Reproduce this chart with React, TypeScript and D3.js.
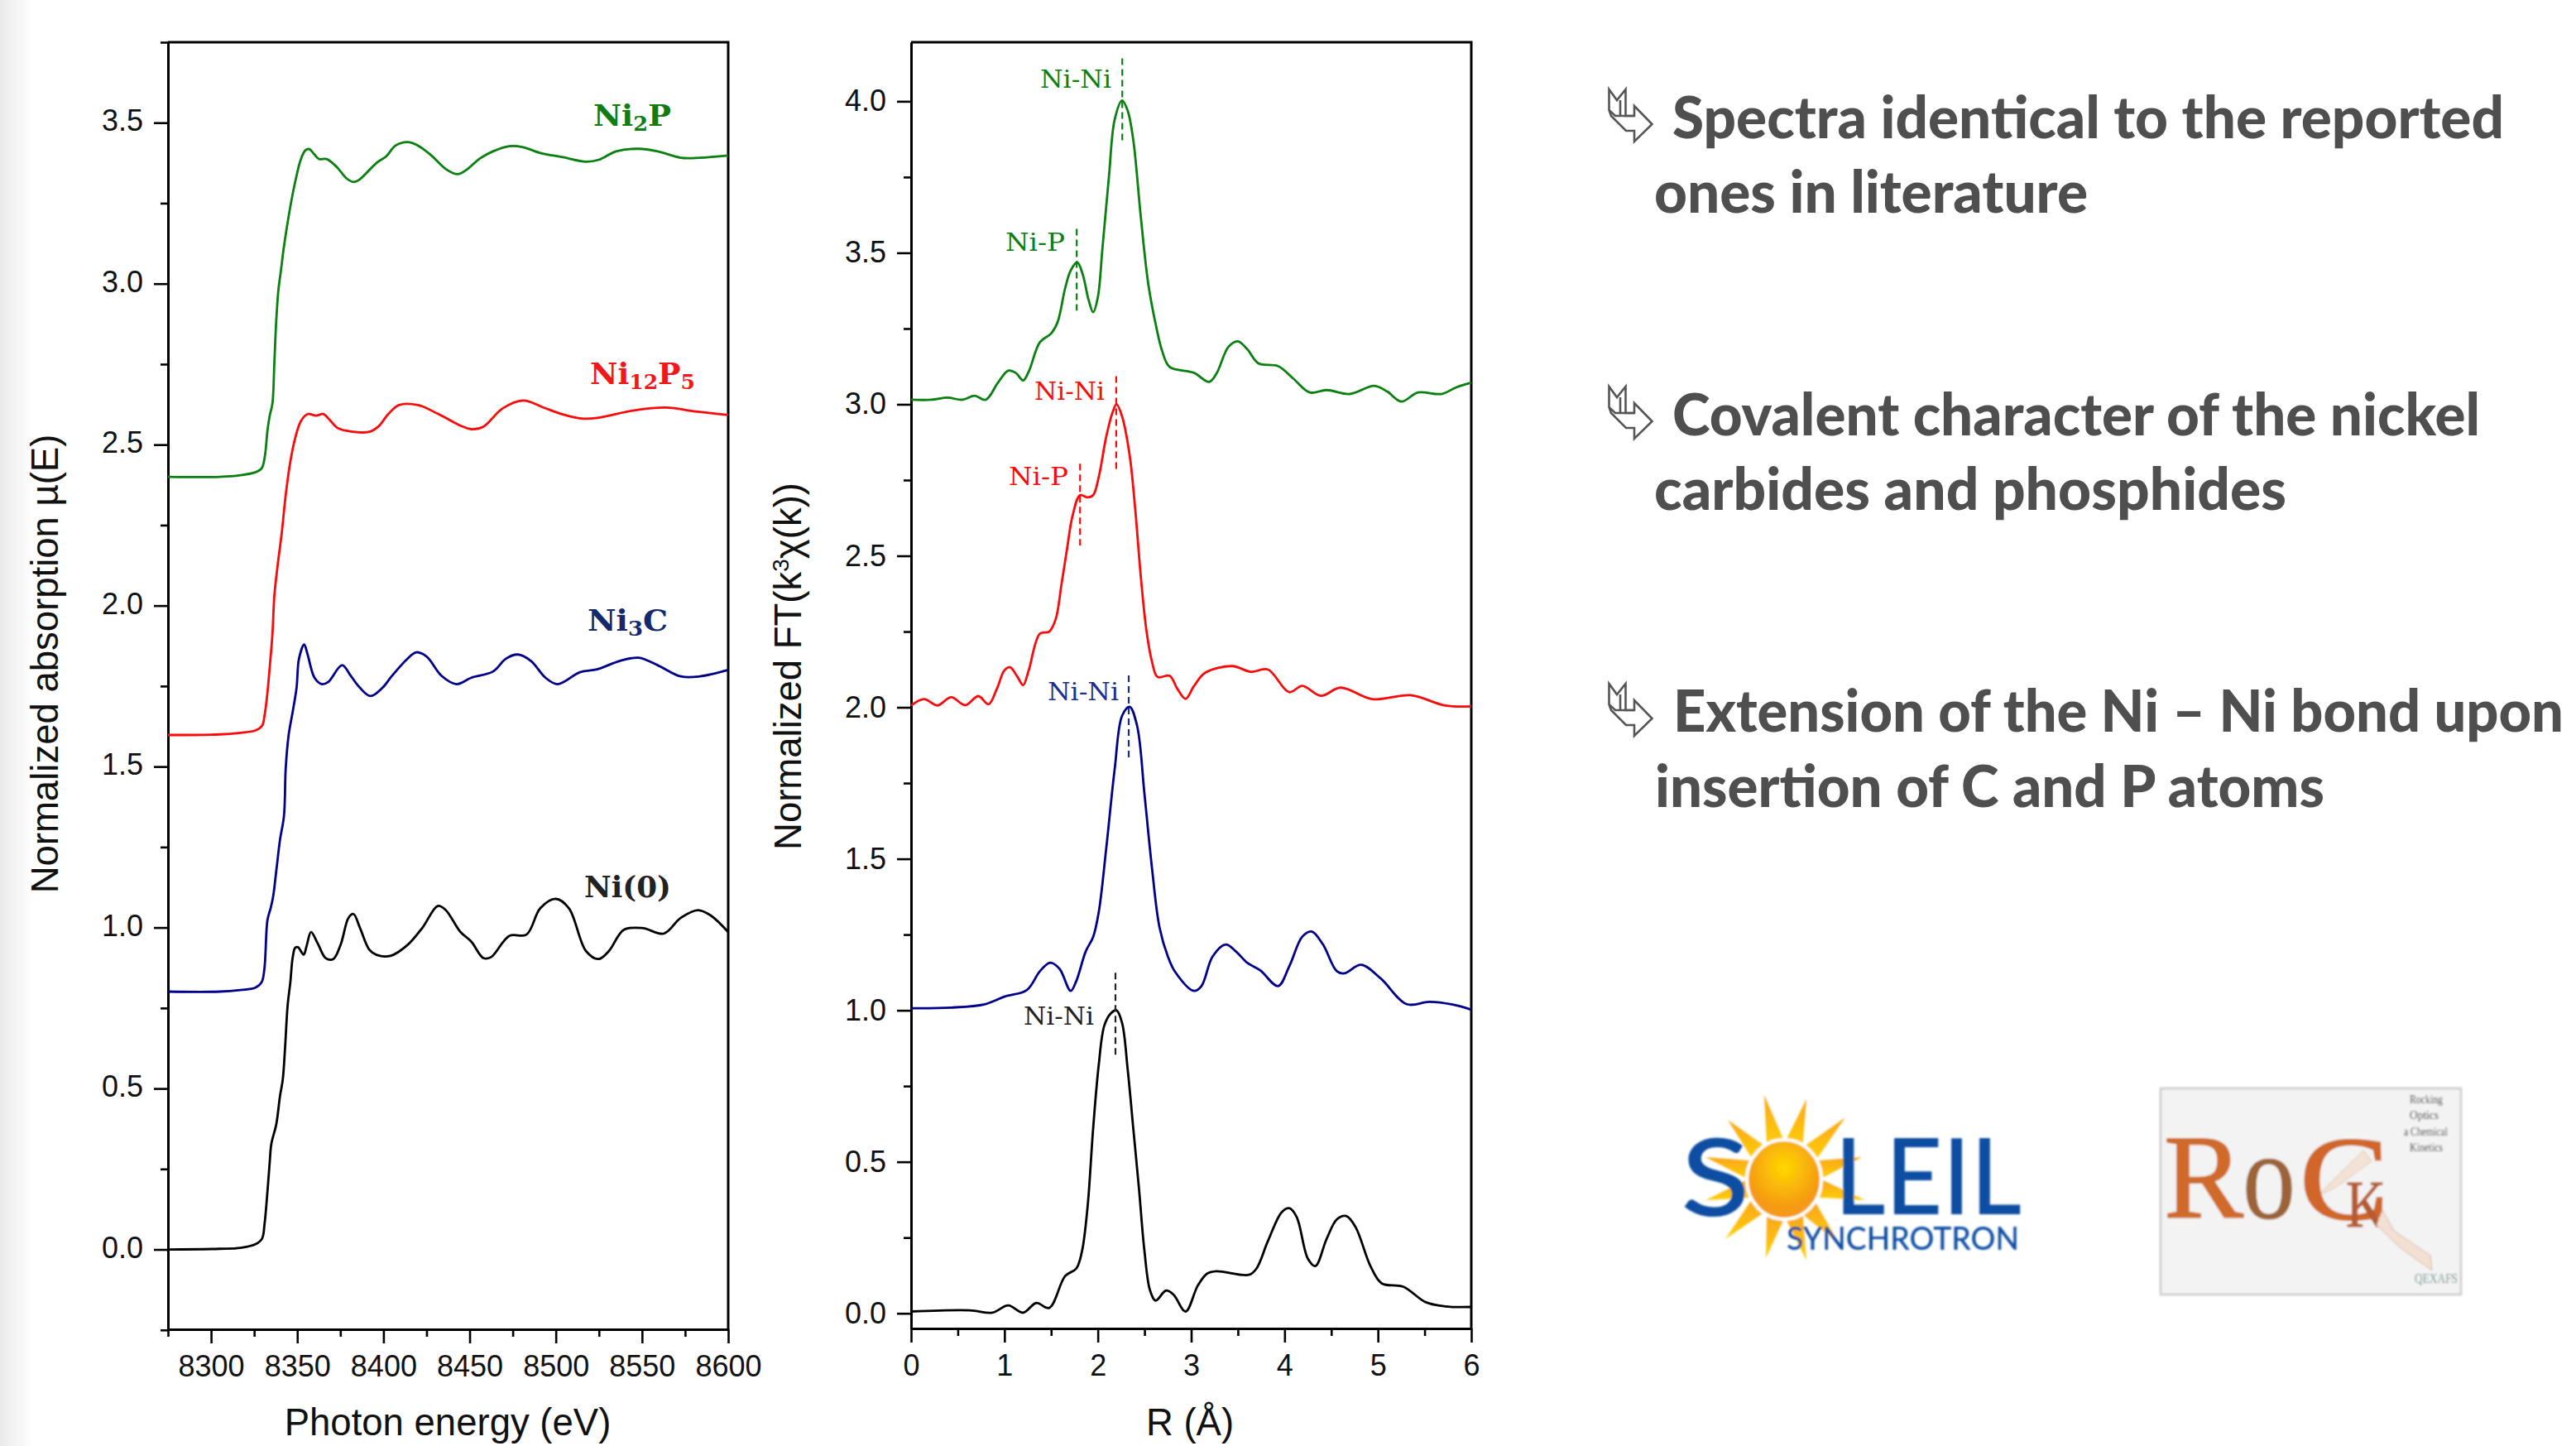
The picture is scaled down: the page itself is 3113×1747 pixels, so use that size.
import React, { useEffect, useRef } from "react";
import * as d3 from "d3";

// XANES spectra, [photon energy, normalized absorption]
const xanesNi2P = [[8275,2.4],[8305,2.4],[8317,2.405],[8325.6,2.414],[8329.4,2.427],[8331.2,2.464],[8332.7,2.543],[8334,2.589],[8335.6,2.628],[8336.7,2.753],[8337.8,2.884],[8339,2.977],[8340.5,3.04],[8342.4,3.12],[8345.5,3.225],[8348.8,3.316],[8352,3.385],[8354.7,3.414],[8357,3.418],[8359.8,3.402],[8362.7,3.387],[8367,3.387],[8373,3.362],[8378.6,3.327],[8382.6,3.316],[8386,3.323],[8396,3.375],[8401.7,3.396],[8407,3.429],[8413.9,3.44],[8419,3.432],[8427,3.402],[8437,3.353],[8443,3.34],[8448,3.353],[8456,3.389],[8463.5,3.411],[8473,3.427],[8481,3.424],[8491,3.406],[8504,3.393],[8517.5,3.379],[8525,3.385],[8535,3.411],[8548,3.419],[8559,3.411],[8572.5,3.391],[8583.5,3.391],[8600,3.398]];
const xanesNi12P5 = [[8275,1.598],[8305,1.6],[8317,1.605],[8325.7,1.612],[8329.6,1.627],[8331,1.658],[8332.7,1.73],[8334,1.807],[8335.6,1.912],[8336.7,2.03],[8338.5,2.12],[8341,2.226],[8343.3,2.344],[8346,2.448],[8348.8,2.52],[8352,2.572],[8356,2.595],[8361,2.59],[8365,2.595],[8368.8,2.577],[8373,2.553],[8378.6,2.543],[8391.8,2.54],[8397,2.556],[8403,2.596],[8409,2.623],[8420,2.623],[8431.5,2.596],[8444.7,2.559],[8451,2.548],[8458,2.556],[8469,2.612],[8481,2.637],[8493,2.615],[8504,2.594],[8515,2.581],[8524,2.583],[8546,2.607],[8564,2.615],[8581,2.603],[8600,2.592]];
const xanesNi3C = [[8275,0.801],[8305,0.801],[8317,0.806],[8325.7,0.813],[8329.4,0.831],[8331,0.875],[8332.7,1.023],[8334.5,1.059],[8336,1.096],[8338,1.184],[8340,1.273],[8342.3,1.347],[8343.3,1.495],[8345,1.598],[8347.4,1.672],[8349.6,1.745],[8351,1.835],[8354,1.879],[8356,1.848],[8360,1.776],[8364.3,1.756],[8368,1.763],[8376,1.815],[8381,1.782],[8386.3,1.745],[8392.5,1.719],[8399.5,1.745],[8405,1.782],[8414,1.835],[8419,1.855],[8425,1.842],[8433.7,1.782],[8442.5,1.756],[8451,1.776],[8463.5,1.795],[8471,1.835],[8478,1.848],[8485.6,1.828],[8494,1.776],[8501,1.756],[8514,1.793],[8524,1.802],[8537,1.828],[8548,1.838],[8559,1.815],[8572.5,1.78],[8583.5,1.78],[8600,1.8]];
const xanesNi0 = [[8275,0],[8305,0.002],[8317,0.005],[8325.7,0.016],[8329.6,0.034],[8331,0.078],[8332.7,0.18],[8334,0.27],[8335,0.329],[8337.8,0.388],[8340,0.477],[8341.6,0.528],[8342.9,0.624],[8344.4,0.757],[8346,0.831],[8347.3,0.905],[8348.8,0.937],[8350.4,0.939],[8353.7,0.916],[8355.4,0.942],[8358,0.986],[8362,0.949],[8366.5,0.905],[8370.9,0.902],[8375.3,0.949],[8379.7,1.03],[8382.6,1.042],[8386.3,1.0],[8391.8,0.931],[8396,0.915],[8404,0.912],[8414,0.946],[8422.7,1.0],[8431.5,1.067],[8436,1.055],[8444.7,0.986],[8451,0.956],[8458,0.905],[8462.4,0.908],[8473,0.974],[8483,0.978],[8491,1.06],[8500,1.089],[8507.6,1.06],[8517.5,0.927],[8524.8,0.902],[8530.8,0.927],[8539.5,0.993],[8550.6,0.998],[8562.6,0.981],[8572.5,1.03],[8582.5,1.054],[8590,1.037],[8600,0.986]];

// FT spectra, [R, normalized FT]
const ftNi2P = [[0,3.015],[0.22,3.015],[0.39,3.022],[0.55,3.015],[0.68,3.028],[0.8,3.015],[0.93,3.071],[1.04,3.111],[1.12,3.104],[1.2,3.079],[1.26,3.108],[1.38,3.205],[1.5,3.234],[1.57,3.272],[1.65,3.383],[1.71,3.442],[1.78,3.469],[1.84,3.427],[1.9,3.346],[1.95,3.304],[2.0,3.353],[2.05,3.516],[2.12,3.754],[2.18,3.939],[2.26,4.003],[2.32,3.969],[2.38,3.872],[2.46,3.62],[2.54,3.398],[2.62,3.264],[2.69,3.175],[2.77,3.123],[3.03,3.104],[3.19,3.074],[3.27,3.101],[3.4,3.19],[3.5,3.208],[3.6,3.182],[3.72,3.135],[3.93,3.126],[4.09,3.086],[4.27,3.039],[4.45,3.047],[4.7,3.034],[4.96,3.061],[5.1,3.042],[5.25,3.009],[5.43,3.039],[5.68,3.034],[5.84,3.056],[6,3.071]];
const ftNi12P5 = [[0,2.006],[0.14,2.027],[0.28,2.006],[0.43,2.033],[0.58,2.007],[0.72,2.037],[0.83,2.01],[0.92,2.062],[1.0,2.122],[1.06,2.132],[1.14,2.1],[1.2,2.073],[1.26,2.122],[1.38,2.243],[1.48,2.25],[1.55,2.292],[1.61,2.404],[1.67,2.522],[1.73,2.633],[1.81,2.7],[1.89,2.693],[1.95,2.7],[2.01,2.76],[2.09,2.893],[2.16,2.975],[2.2,3.0],[2.26,2.96],[2.34,2.834],[2.4,2.656],[2.46,2.433],[2.52,2.255],[2.58,2.151],[2.64,2.1],[2.77,2.104],[2.85,2.062],[2.94,2.028],[3.03,2.07],[3.15,2.114],[3.44,2.136],[3.64,2.117],[3.82,2.125],[4.05,2.05],[4.19,2.071],[4.39,2.038],[4.6,2.065],[4.94,2.027],[5.35,2.04],[5.72,2.006],[6,2.003]];
const ftNi3C = [[0,1.007],[0.43,1.009],[0.79,1.02],[1.0,1.045],[1.24,1.067],[1.38,1.129],[1.49,1.157],[1.59,1.137],[1.71,1.064],[1.77,1.097],[1.87,1.194],[1.95,1.242],[2.01,1.324],[2.09,1.534],[2.18,1.794],[2.26,1.972],[2.34,2.002],[2.42,1.94],[2.5,1.713],[2.58,1.47],[2.66,1.275],[2.75,1.178],[2.83,1.126],[3.03,1.064],[3.11,1.08],[3.23,1.178],[3.37,1.217],[3.48,1.194],[3.6,1.157],[3.74,1.132],[3.93,1.08],[4.05,1.145],[4.19,1.243],[4.29,1.26],[4.41,1.218],[4.56,1.129],[4.64,1.122],[4.82,1.15],[5.03,1.105],[5.31,1.02],[5.55,1.028],[5.8,1.019],[6,1.002]];
const ftNi0 = [[0,0.006],[0.63,0.01],[0.87,0.002],[1.04,0.026],[1.2,0.002],[1.34,0.034],[1.48,0.018],[1.65,0.123],[1.77,0.148],[1.83,0.204],[1.89,0.35],[1.95,0.61],[2.01,0.82],[2.07,0.95],[2.14,0.99],[2.2,1.0],[2.26,0.958],[2.32,0.805],[2.38,0.61],[2.44,0.415],[2.5,0.204],[2.56,0.075],[2.62,0.042],[2.73,0.075],[2.81,0.062],[2.94,0.006],[3.07,0.091],[3.17,0.131],[3.27,0.139],[3.62,0.127],[3.7,0.148],[3.82,0.237],[3.97,0.334],[4.05,0.347],[4.13,0.318],[4.25,0.18],[4.33,0.156],[4.45,0.245],[4.56,0.31],[4.66,0.321],[4.76,0.285],[4.92,0.156],[5.04,0.099],[5.27,0.088],[5.51,0.037],[5.72,0.023],[6,0.021]];

const GREEN = "#0a8010";
const RED = "#fa0a0a";
const NAVY = "#00008b";
const BLACK = "#000";

const xanesSeries = [
  { pts: xanesNi2P, color: GREEN },
  { pts: xanesNi12P5, color: RED },
  { pts: xanesNi3C, color: NAVY },
  { pts: xanesNi0, color: BLACK },
];
const ftSeries = [
  { pts: ftNi2P, color: GREEN },
  { pts: ftNi12P5, color: RED },
  { pts: ftNi3C, color: NAVY },
  { pts: ftNi0, color: BLACK },
];

// dashed peak markers: label, R, top and bottom value, label end x in px offset
const peakMarks = [
  { label: "Ni-Ni", r: 2.262, y0: 4.142, y1: 3.869, color: GREEN, tx: 1257, tw: 86, base: 106 },
  { label: "Ni-P", r: 1.774, y0: 3.579, y1: 3.309, color: GREEN, tx: 1215, tw: 72, base: 303 },
  { label: "Ni-Ni", r: 2.197, y0: 3.093, y1: 2.782, color: RED, tx: 1250, tw: 85, base: 483 },
  { label: "Ni-P", r: 1.81, y0: 2.804, y1: 2.534, color: RED, tx: 1219, tw: 72, base: 586 },
  { label: "Ni-Ni", r: 2.331, y0: 2.105, y1: 1.835, color: "#1a2d90", tx: 1266, tw: 86, base: 846 },
  { label: "Ni-Ni", r: 2.189, y0: 1.124, y1: 0.848, color: "#222", tx: 1237, tw: 85, base: 1238 },
];

const sampleLabels = [
  { parts: [["Ni", 0], ["2", 1], ["P", 0]], x: 717, y: 152, w: 94, color: "#0f7d14" },
  { parts: [["Ni", 0], ["12", 1], ["P", 0], ["5", 1]], x: 713, y: 464, w: 127, color: "#f01818" },
  { parts: [["Ni", 0], ["3", 1], ["C", 0]], x: 710, y: 762, w: 97, color: "#14286e" },
  { parts: [["Ni(0)", 0]], x: 706, y: 1084, w: 105, color: "#222" },
];

const bulletLines = [
  { text: "Spectra identical to the reported", x: 2021, y: 167, w: 1005 },
  { text: "ones in literature", x: 1999, y: 257, w: 524 },
  { text: "Covalent character of the nickel", x: 2021, y: 526, w: 976 },
  { text: "carbides and phosphides", x: 1999, y: 616, w: 764 },
  { text: "Extension of the Ni – Ni bond upon", x: 2022, y: 884, w: 1076 },
  { text: "insertion of C and P atoms", x: 2000, y: 975, w: 809 },
];
const bulletOffsets = [0, 359, 718];

const sunTips = [[2132,1323],[2183,1328],[2230,1350],[2250,1398],[2254,1450],[2223,1503],[2183,1523],[2134,1520],[2085,1497],[2061,1450],[2061,1398],[2088,1353]];

const SANS = "'Liberation Sans', Arial, sans-serif";

function drawPanel(svg, cfg) {
  const { left, right, top, bottom, xDomain, yDomain, xMajor, xMinor, yMajor, yMinor, xFmt, series, labelLift } = cfg;
  const x = d3.scaleLinear().domain(xDomain).range([left, right]);
  const y = d3.scaleLinear().domain(yDomain).range([bottom, top]);

  const styleAxis = (sel) => {
    sel.selectAll("line").attr("stroke", "#000").attr("stroke-width", 2.6);
    sel.select(".domain").attr("stroke", "#000").attr("stroke-width", 3);
    sel.selectAll("text").attr("font-family", SANS).attr("font-size", 36).attr("fill", "#111");
  };

  //Minor ticks
  svg.append("g").attr("transform", `translate(0,${bottom})`)
    .call(d3.axisBottom(x).tickValues(xMinor).tickSize(9).tickSizeOuter(0)).call(styleAxis)
    .selectAll("text").remove();
  svg.append("g").attr("transform", `translate(${left},0)`)
    .call(d3.axisLeft(y).tickValues(yMinor).tickSize(9).tickSizeOuter(0)).call(styleAxis)
    .selectAll("text").remove();

  //Major ticks
  const xAxis = svg.append("g").attr("transform", `translate(0,${bottom})`)
    .call(d3.axisBottom(x).tickValues(xMajor).tickSize(17).tickPadding(12).tickFormat(xFmt).tickSizeOuter(0)).call(styleAxis);
  xAxis.selectAll("text").attr("dy", null).attr("y", 57);
  const yAxis = svg.append("g").attr("transform", `translate(${left},0)`)
    .call(d3.axisLeft(y).tickValues(yMajor).tickSize(17).tickPadding(12).tickFormat(d3.format(".1f")).tickSizeOuter(0)).call(styleAxis);
  yAxis.selectAll("text").attr("x", -30).attr("y", -labelLift);

  //Top and right frame
  svg.append("path").attr("d", `M${left},${top}H${right}V${bottom}`)
    .attr("fill", "none").attr("stroke", "#000").attr("stroke-width", 3);

  //Curves
  const line = d3.line().x((d) => x(d[0])).y((d) => y(d[1])).curve(d3.curveCatmullRom.alpha(0.5));
  svg.selectAll(null).data(series).join("path")
    .attr("d", (d) => line(d.pts))
    .attr("fill", "none")
    .attr("stroke", (d) => d.color)
    .attr("stroke-width", 2.8)
    .attr("stroke-linejoin", "round");

  return { x, y };
}

export default function App() {
  const ref = useRef(null);

  useEffect(() => {
    const svg = d3.select(ref.current);
    svg.selectAll("*").remove();

    const defs = svg.append("defs");
    const edge = defs.append("linearGradient").attr("id", "edge");
    edge.append("stop").attr("offset", 0).attr("stop-color", "#eaeaea");
    edge.append("stop").attr("offset", 1).attr("stop-color", "#fff");
    const sun = defs.append("radialGradient").attr("id", "sunBall").attr("cy", 0.35);
    sun.append("stop").attr("offset", 0).attr("stop-color", "#ffd800");
    sun.append("stop").attr("offset", 1).attr("stop-color", "#f59a12");
    const rays = defs.append("linearGradient").attr("id", "sunRays").attr("x1", 0).attr("x2", 0).attr("y1", 1).attr("y2", 0);
    rays.append("stop").attr("offset", 0).attr("stop-color", "#ffce0a");
    rays.append("stop").attr("offset", 1).attr("stop-color", "#f9a51a");
    defs.append("filter").attr("id", "soft").append("feGaussianBlur").attr("stdDeviation", 0.8);

    svg.append("rect").attr("width", 3113).attr("height", 1747).attr("fill", "#fff");
    svg.append("rect").attr("width", 40).attr("height", 1747).attr("fill", "url(#edge)");

    drawPanel(svg, {
      left: 203, right: 880, top: 51, bottom: 1606,
      xDomain: [8275, 8600], yDomain: [-0.248, 3.75],
      xMajor: d3.range(8300, 8601, 50), xMinor: d3.range(8275, 8600, 50),
      yMajor: d3.range(0, 3.51, 0.5), yMinor: d3.range(-0.25, 3.76, 0.5),
      xFmt: d3.format("d"), series: xanesSeries, labelLift: 2,
    });
    const ft = drawPanel(svg, {
      left: 1101, right: 1778, top: 51, bottom: 1605,
      xDomain: [0, 6], yDomain: [-0.05, 4.195],
      xMajor: d3.range(0, 7), xMinor: d3.range(0.5, 6, 1),
      yMajor: d3.range(0, 4.01, 0.5), yMinor: d3.range(0.25, 4.2, 0.5),
      xFmt: d3.format("d"), series: ftSeries, labelLift: 0,
    });

    //Axis titles
    const title = (txt, x, y, rot = 0) =>
      svg.append("text").text(txt)
        .attr("transform", `translate(${x},${y}) rotate(${rot})`)
        .attr("text-anchor", "middle").attr("font-family", SANS).attr("font-size", 45.5).attr("fill", "#111");
    title("Photon energy (eV)", 541, 1734);
    title("R (Å)", 1438, 1734);
    title("Normalized absorption µ(E)", 70, 802, -90);
    const ftTitle = title("", 968, 805, -90);
    ftTitle.append("tspan").text("Normalized FT(k");
    ftTitle.append("tspan").text("3").attr("font-size", 28).attr("dy", -15);
    ftTitle.append("tspan").text("χ(k))").attr("dy", 15);

    //Sample labels
    sampleLabels.forEach((s) => {
      const t = svg.append("text").attr("x", s.x).attr("y", s.y)
        .attr("textLength", s.w).attr("lengthAdjust", "spacingAndGlyphs")
        .attr("font-family", "'DejaVu Serif', serif").attr("font-weight", 700)
        .attr("font-size", 35).attr("fill", s.color);
      let prevSub = 0;
      s.parts.forEach(([txt, sub]) => {
        t.append("tspan").text(txt)
          .attr("font-size", sub ? 24 : 35)
          .attr("dy", sub ? 6 : prevSub ? -6 : 0);
        prevSub = sub;
      });
    });

    //Peak markers
    peakMarks.forEach((p) => {
      svg.append("line")
        .attr("x1", ft.x(p.r)).attr("x2", ft.x(p.r))
        .attr("y1", ft.y(p.y0)).attr("y2", ft.y(p.y1))
        .attr("stroke", p.color).attr("stroke-width", 2.2).attr("stroke-dasharray", "8 5");
      svg.append("text").text(p.label)
        .attr("x", p.tx).attr("y", p.base)
        .attr("textLength", p.tw).attr("lengthAdjust", "spacingAndGlyphs")
        .attr("font-family", "'DejaVu Serif', serif").attr("font-size", 29).attr("font-weight", 500)
        .attr("fill", p.color);
    });

    //Right hand notes
    svg.selectAll(null).data(bulletLines).join("text")
      .text((d) => d.text)
      .attr("x", (d) => d.x).attr("y", (d) => d.y)
      .attr("textLength", (d) => d.w).attr("lengthAdjust", "spacingAndGlyphs")
      .attr("font-family", "Lato, sans-serif").attr("font-weight", 900).attr("font-size", 70)
      .attr("fill", "#4f4f4f");
    bulletOffsets.forEach((dy) => {
      const g = svg.append("g").attr("transform", `translate(1930,${90 + dy})`)
        .attr("fill", "none").attr("stroke", "#555").attr("stroke-width", 2.6).attr("stroke-linejoin", "miter");
      g.append("path").attr("d", "M14.5,18L24,31L34.5,18V50H45V38L66.5,60L45,81V68H35L17,50L14.5,43Z");
      g.append("path").attr("d", "M14.5,43L22,50H45M28,31V50");
    });

    //SOLEIL logo
    const soleil = svg.append("g").attr("filter", "url(#soft)");
    const cx = 2156, cy = 1425;
    const ang = sunTips.map(([tx, ty]) => Math.atan2(ty - cy, tx - cx));
    soleil.selectAll(null).data(sunTips).join("path")
      .attr("d", (d, i) => {
        const a0 = ang[i] - 0.24, a1 = ang[i] + 0.24;
        return `M${cx + 46 * Math.cos(a0)},${cy + 46 * Math.sin(a0)}L${d[0]},${d[1]}L${cx + 46 * Math.cos(a1)},${cy + 46 * Math.sin(a1)}Z`;
      })
      .attr("fill", "url(#sunRays)");
    soleil.append("ellipse").attr("cx", cx).attr("cy", cy).attr("rx", 45).attr("ry", 48)
      .attr("fill", "url(#sunBall)").attr("stroke", "#fff").attr("stroke-width", 4);
    const blueText = (txt, x, y, w, size) =>
      soleil.append("text").text(txt).attr("x", x).attr("y", y)
        .attr("textLength", w).attr("lengthAdjust", "spacingAndGlyphs")
        .attr("font-family", "Lato, sans-serif").attr("font-weight", 500)
        .attr("font-size", size).attr("fill", "#0b4ea2");
    blueText("S", 2031, 1469, 84, 130);
    blueText("LEIL", 2217, 1467, 226, 128);
    blueText("SYNCHROTRON", 2159, 1510, 281, 39);

    //RoCK logo
    const rock = svg.append("g").attr("filter", "url(#soft)");
    rock.append("rect").attr("x", 2611).attr("y", 1315).attr("width", 363).attr("height", 249)
      .attr("fill", "#f3f3f3").attr("stroke", "#d2d2d2").attr("stroke-width", 3);
    const rockText = (txt, x, y, w, size, fill, heavy = 0) =>
      rock.append("text").text(txt).attr("x", x).attr("y", y)
        .attr("textLength", w).attr("lengthAdjust", "spacingAndGlyphs")
        .attr("font-family", "'Liberation Serif', serif").attr("font-size", size).attr("fill", fill)
        .attr("stroke", heavy ? fill : "none").attr("stroke-width", heavy);
    rock.append("path").attr("d", "M2798,1447L2856,1390L2866,1403L2825,1433Z")
      .attr("fill", "#f3e2d6").attr("stroke", "#e2c8b4");
    rockText("R", 2615, 1470, 96, 145, "#cf6a2c", 2);
    rockText("o", 2710, 1472, 64, 150, "#9c6238", 1);
    rockText("C", 2779, 1473, 108, 145, "#d0662a", 2);
    rockText("K", 2835, 1482, 48, 80, "#b55a30", 1);
    rock.append("path").attr("d", "M2879,1462L2893,1487L2937,1517L2939,1535L2900,1507L2872,1480Z")
      .attr("fill", "#f3e0d3").attr("stroke", "#d5b6a2");
    rockText("Rocking", 2912, 1333, 40, 15, "#333");
    rockText("Optics", 2912, 1352, 35, 15, "#333");
    rockText("a Chemical", 2905, 1372, 53, 15, "#333");
    rockText("Kinetics", 2912, 1391, 40, 15, "#333");
    rockText("QEXAFS", 2918, 1550, 52, 17, "#6f9292");
  }, []);

  return <svg ref={ref} width={3113} height={1747} style={{ position: "absolute", left: 0, top: 0, display: "block" }} />;
}
